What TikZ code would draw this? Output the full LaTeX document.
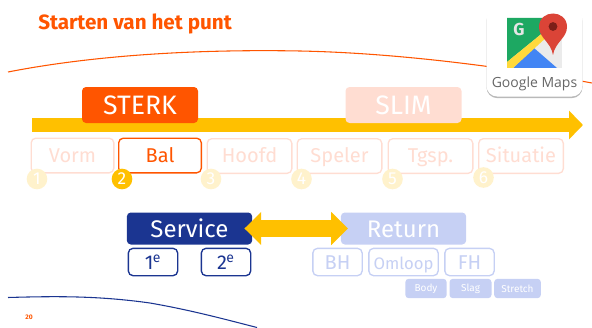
\documentclass[tikz,border=0pt]{standalone}
\usepackage{fontspec}
\usepackage{xcolor}
\setmainfont{Fira Sans}
\newfontfamily\logofont{Open Sans}
\usetikzlibrary{arrows.meta,shadows}

\definecolor{oranje}{HTML}{FF5500}
\definecolor{geel}{HTML}{FFC000}
\definecolor{blauw}{HTML}{1B3591}
\definecolor{oranjevaag}{HTML}{FFDDD2}
\definecolor{geelvaag}{HTML}{FFF2CC}
\definecolor{blauwvaag}{HTML}{C6D0F4}
\definecolor{mapgroen}{HTML}{1DA862}
\definecolor{mapblauw}{HTML}{4285F4}
\definecolor{mapgeel}{HTML}{FFD93B}
\definecolor{maprood}{HTML}{DB4437}
\definecolor{mapdonker}{HTML}{7B1F18}

\tikzset{
  kop/.style={rounded corners=3pt, inner sep=0pt, minimum width=87pt, minimum height=27pt, font=\fontsize{20}{20}\selectfont, text=white, text height=14.5pt, text depth=0pt},
  keuze/.style={draw, line width=1pt, rounded corners=3.5pt, fill=white, inner sep=0pt, minimum height=26pt, font=\fontsize{15}{15}\selectfont, text height=13pt, text depth=3pt},
  sub/.style={draw, line width=1pt, rounded corners=3.5pt, fill=white, inner sep=0pt, minimum height=20.5pt, font=\fontsize{15}{15}\selectfont, text height=11.5pt, text depth=0pt},
  nummer/.style={circle, inner sep=0pt, minimum size=15.5pt, text=white, font=\fontsize{13}{13}\selectfont},
  klein/.style={fill=blauwvaag, rounded corners=2.5pt, inner sep=0pt, minimum height=14.5pt, text=white, font=\fontsize{7.5}{7.5}\selectfont},
}

\begin{document}
\begin{tikzpicture}[x=0.75pt, y=-0.75pt]
\useasboundingbox (0,0) rectangle (592,328);

% Title and curves
\node[anchor=west, text=oranje, inner sep=0pt, font=\fontsize{15.5}{15.5}\selectfont\bfseries] (titel) at (38,24) {Starten van het punt};
\draw[oranje, line width=0.8pt] (8,72) .. controls (90,56) and (190,49) .. (300,51) .. controls (400,53) and (510,68) .. (592,83);
\draw[blauw, line width=0.8pt] (8,297.5) .. controls (60,296) and (100,296) .. (150,303) .. controls (190,310) and (220,318) .. (257,327.5);

% Main arrow
\coordinate (start) at (32,125);
\coordinate (eind) at (583,125);
\draw[geel, line width=10.5pt, -{Triangle[length=10.5pt, width=21pt]}] (start) -- (eind);

% Headers
\node[kop, fill=oranje] (sterk) at (140,105) {STERK};
\node[kop, fill=oranjevaag] (slim) at (403.5,105) {SLIM};

% Elements
\node[keuze, draw=oranjevaag, text=oranjevaag, minimum width=62pt] (vorm) at (72.5,155.5) {Vorm};
\node[keuze, draw=oranje, text=oranje, minimum width=62pt] (bal) at (160,155.5) {Bal};
\node[keuze, draw=oranjevaag, text=oranjevaag, minimum width=63.5pt] (hoofd) at (249.5,156) {Hoofd};
\node[keuze, draw=oranjevaag, text=oranjevaag, minimum width=63.5pt] (speler) at (339.5,156) {Speler};
\node[keuze, draw=oranjevaag, text=oranjevaag, minimum width=63.5pt] (tgsp) at (430.5,156) {Tgsp.};
\node[keuze, draw=oranjevaag, text=oranjevaag, minimum width=63.5pt] (situatie) at (521,156) {Situatie};

% Numbers
\node[nummer, fill=geelvaag] (een) at (37,179) {1};
\node[nummer, fill=geel] (twee) at (122,179) {2};
\node[nummer, fill=geelvaag] (drie) at (211,179) {3};
\node[nummer, fill=geelvaag] (vier) at (301.5,179) {4};
\node[nummer, fill=geelvaag] (vijf) at (392.5,179) {5};
\node[nummer, fill=geelvaag] (zes) at (483.5,177.5) {6};

% Service and return
\node[kop, fill=blauw, minimum width=94pt, minimum height=24pt, font=\fontsize{18}{18}\selectfont, text height=13.5pt] (service) at (189.5,228.5) {Service};
\node[kop, fill=blauwvaag, minimum width=94pt, minimum height=24pt, font=\fontsize{18}{18}\selectfont, text height=13.5pt] (return) at (403.5,228.5) {Return};
\draw[geel, line width=12.5pt, {Triangle[length=12.5pt, width=24pt]}-{Triangle[length=12.5pt, width=24pt]}, shorten <=-6pt, shorten >=-5.5pt] (service) -- (return);

\node[sub, draw=blauw, text=blauw, minimum width=37pt] (eerste) at (153,262) {1\kern-0.5pt\textsuperscript{e}};
\node[sub, draw=blauw, text=blauw, minimum width=37pt] (tweede) at (226,262) {2\kern-0.5pt\textsuperscript{e}};
\node[sub, draw=blauwvaag, text=blauwvaag, minimum width=37pt] (bh) at (337.5,262) {BH};
\node[sub, draw=blauwvaag, text=blauwvaag, minimum width=52pt, font=\fontsize{12.5}{12.5}\selectfont] (omloop) at (403.5,262) {Omloop};
\node[sub, draw=blauwvaag, text=blauwvaag, minimum width=37pt] (fh) at (469.5,262) {FH};
\node[klein, minimum width=31pt] (body) at (426,288.5) {Body};
\node[klein, minimum width=31.5pt] (slag) at (470.5,288.5) {Slag};
\node[klein, minimum width=35pt] (stretch) at (517.5,288.5) {Stretch};

\node[text=oranje, inner sep=0pt, font=\fontsize{5}{5}\selectfont\bfseries] (pagina) at (29,317) {20};

% Google Maps logo
\node[fill=white, rounded corners=8pt, inner sep=0pt, minimum width=72pt, minimum height=66pt, drop shadow={shadow xshift=0pt, shadow yshift=-1.2pt, opacity=0.55}] (logo) at (534.5,52.5) {};
\fill[black!8] (507,18) rectangle (562,68);
\fill[mapgroen] (507,18) -- (545,18) -- (545,31) -- (507,62) -- cycle;
\fill[mapblauw] (513,68) -- (534,48) -- (557,68) -- cycle;
\fill[mapgeel] (507,62) -- (545,31) -- (549,35) -- (513,68) -- (507,68) -- cycle;
\node[text=white!90!black, inner sep=0pt, font=\fontsize{13}{13}\selectfont\bfseries] (g) at (519,29.5) {G};
\fill[maprood] (553,55) .. controls (551,42) and (539,38) .. (539,27) .. controls (539,9) and (567,9) .. (567,27) .. controls (567,38) and (555,42) .. (553,55) -- cycle;
\fill[mapdonker] (553,26.5) circle (3.3pt);
\node[text=black!60, inner sep=0pt, font=\logofont\fontsize{10.5}{10.5}\selectfont] (naam) at (534.5,84) {Google Maps};
\end{tikzpicture}
\end{document}
